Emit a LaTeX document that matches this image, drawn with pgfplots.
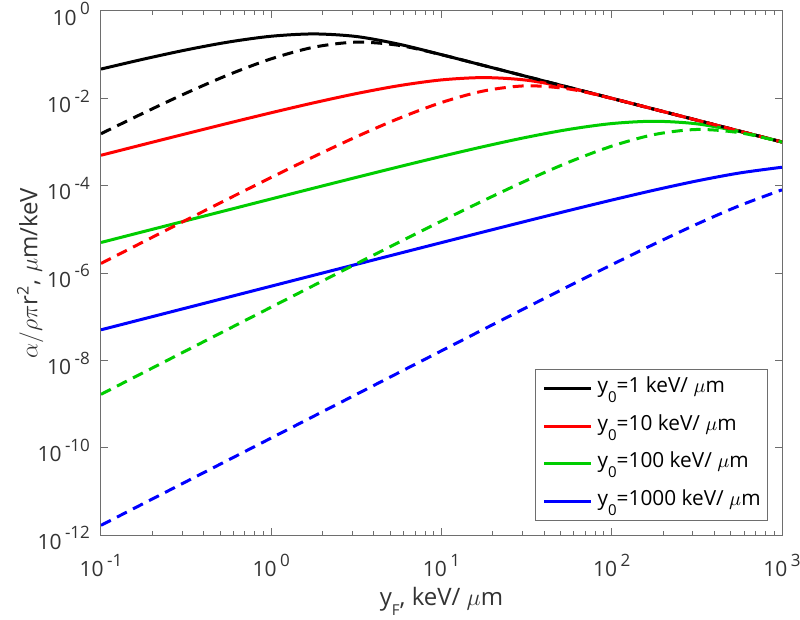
\documentclass[border=0pt]{standalone}
\usepackage{fontspec}
\setmainfont{Open Sans}
\usepackage{pgfplots}
\pgfplotsset{compat=1.18}
\definecolor{mgreen}{RGB}{0,205,0}
\definecolor{axgray}{RGB}{110,110,110}
\newcommand{\tl}[1]{10\,\raisebox{0.5em}{\fontsize{8.5}{9}\selectfont#1}}
\newcommand{\sub}[1]{\raisebox{-0.48em}{\fontsize{7.5}{8}\selectfont#1}}
\newcommand{\subx}[1]{\raisebox{-0.4em}{\fontsize{7.5}{8}\selectfont#1}}
\begin{document}
\begin{tikzpicture}
\begin{loglogaxis}[
  scale only axis, width=340.5pt, height=262pt,
  xmin=0.1, xmax=1000, ymin=1e-12, ymax=1,
  xtick={0.1,1,10,100,1000},
  xticklabels={\tl{-1},\tl{0},\tl{1},\tl{2},\tl{3}},
  ytick={1e-12,1e-10,1e-8,1e-6,1e-4,1e-2,1},
  yticklabels={\tl{-12},\tl{-10},\tl{-8},\tl{-6},\tl{-4},\tl{-2},\tl{0}},
  yminorticks=false,
  tick align=inside,
  major tick length=3.5pt, minor tick length=2pt,
  axis line style={axgray, line width=0.5pt},
  every tick/.style={axgray, line width=0.5pt},
  ticklabel style={font=\fontsize{10.5}{12}\selectfont, text=black!80},
  xticklabel style={yshift=-6pt},
  yticklabel style={xshift=-2pt, yshift=-1.5pt},
  xlabel={y\subx{F}, keV/ $\mu$m},
  ylabel={$\alpha/\rho\pi$r\textsuperscript{2}, $\mu$m/keV},
  label style={font=\fontsize{12}{14}\selectfont, text=black!80},
  xlabel style={at={(axis description cs:0.5,-0.127)}, anchor=center},
  ylabel style={at={(axis description cs:-0.104,0.5)}, anchor=center},
  legend style={at={(axis description cs:1,0)}, anchor=south east, xshift=-7pt, yshift=7pt,
    draw=axgray, fill=white, font=\fontsize{10.4}{12}\selectfont,
    nodes={inner sep=0pt, text height=8pt, text depth=4pt},
    row sep=6.85pt, column sep=2.5pt, inner xsep=3.5pt, inner ysep=3.5pt},
  legend cell align=left,
  legend image code/.code={\draw[#1] (0pt,0pt) -- (23.5pt,0pt);},
  every axis plot/.append style={line width=1.5pt, smooth},
]
\addplot[black] coordinates {(0.1,0.046788)(0.1778,0.079033)(0.3162,0.128422)(0.5623,0.195010)(1,0.264241)(1.778,0.298415)(3.162,0.260513)(5.623,0.173574)(10,0.0999501)(17.78,0.0562341)(31.62,0.0316228)(56.23,0.0177828)(100,0.01)(177.8,0.00562341)(316.2,0.00316228)(562.3,0.00177828)(1000,0.001)};
\addlegendentry{y\sub{0}=1 keV/ $\mu$m}
\addplot[red] coordinates {(0.1,4.9668e-4)(0.1778,8.7863e-4)(0.3162,1.5481e-3)(0.5623,2.7083e-3)(1,4.6788e-3)(1.778,7.9033e-3)(3.162,1.28422e-2)(5.623,1.95010e-2)(10,2.64241e-2)(17.78,2.98415e-2)(31.62,2.60513e-2)(56.23,1.73574e-2)(100,9.99501e-3)(177.8,5.62341e-3)(316.2,3.16228e-3)(562.3,1.77828e-3)(1000,1e-3)};
\addlegendentry{y\sub{0}=10 keV/ $\mu$m}
\addplot[mgreen] coordinates {(0.1,4.9967e-6)(0.1778,8.8809e-6)(0.3162,1.5778e-5)(0.5623,2.8011e-5)(1,4.9668e-5)(1.778,8.7863e-5)(3.162,1.5481e-4)(5.623,2.7083e-4)(10,4.6788e-4)(17.78,7.9033e-4)(31.62,1.28422e-3)(56.23,1.95010e-3)(100,2.64241e-3)(177.8,2.98415e-3)(316.2,2.60513e-3)(562.3,1.73574e-3)(1000,9.99501e-4)};
\addlegendentry{y\sub{0}=100 keV/ $\mu$m}
\addplot[blue] coordinates {(0.1,4.9997e-8)(0.1778,8.8904e-8)(0.3162,1.5808e-7)(0.5623,2.8106e-7)(1,4.9967e-7)(1.778,8.8809e-7)(3.162,1.5778e-6)(5.623,2.8011e-6)(10,4.9668e-6)(17.78,8.7863e-6)(31.62,1.5481e-5)(56.23,2.7083e-5)(100,4.6788e-5)(177.8,7.9033e-5)(316.2,1.28422e-4)(562.3,1.95010e-4)(1000,2.64241e-4)};
\addlegendentry{y\sub{0}=1000 keV/ $\mu$m}
\addplot[black, dash pattern=on 5.5pt off 3.5pt, forget plot] coordinates {(0.1,1.5467e-3)(0.1778,4.6130e-3)(0.3162,1.3174e-2)(0.5623,3.4778e-2)(1,8.0301e-2)(1.778,0.148215)(3.162,0.193585)(5.623,0.163417)(10,0.0997231)(17.78,0.0562339)(31.62,0.0316228)(56.23,0.0177828)(100,0.01)(177.8,0.00562341)(316.2,0.00316228)(562.3,0.00177828)(1000,0.001)};
\addplot[red, dash pattern=on 5.5pt off 3.5pt, forget plot] coordinates {(0.1,1.6542e-6)(0.1778,5.1990e-6)(0.3162,1.6273e-5)(0.5623,5.0525e-5)(1,1.5467e-4)(1.778,4.6130e-4)(3.162,1.3174e-3)(5.623,3.4778e-3)(10,8.0301e-3)(17.78,1.48215e-2)(31.62,1.93585e-2)(56.23,1.63417e-2)(100,9.97231e-3)(177.8,5.62339e-3)(316.2,3.16228e-3)(562.3,1.77828e-3)(1000,1e-3)};
\addplot[mgreen, dash pattern=on 5.5pt off 3.5pt, forget plot] coordinates {(0.1,1.6654e-9)(0.1778,5.2619e-9)(0.3162,1.6627e-8)(0.5623,5.2475e-8)(1,1.6542e-7)(1.778,5.1990e-7)(3.162,1.6273e-6)(5.623,5.0525e-6)(10,1.5467e-5)(17.78,4.6130e-5)(31.62,1.3174e-4)(56.23,3.4778e-4)(100,8.0301e-4)(177.8,1.48215e-3)(316.2,1.93585e-3)(562.3,1.63417e-3)(1000,9.97231e-4)};
\addplot[blue, dash pattern=on 5.5pt off 3.5pt, forget plot] coordinates {(0.1,1.6667e-12)(0.1778,5.269e-12)(0.3162,1.6663e-11)(0.5623,5.2675e-11)(1,1.6654e-10)(1.778,5.2619e-10)(3.162,1.6627e-9)(5.623,5.2475e-9)(10,1.6542e-8)(17.78,5.1990e-8)(31.62,1.6273e-7)(56.23,5.0525e-7)(100,1.5467e-6)(177.8,4.6130e-6)(316.2,1.3174e-5)(562.3,3.4778e-5)(1000,8.0301e-5)};
\end{loglogaxis}
\pgfresetboundingbox
\path[use as bounding box] ([shift={(-50.5pt,-42pt)}]current axis.south west) rectangle ([shift={(9pt,5.5pt)}]current axis.north east);
\end{tikzpicture}
\end{document}
